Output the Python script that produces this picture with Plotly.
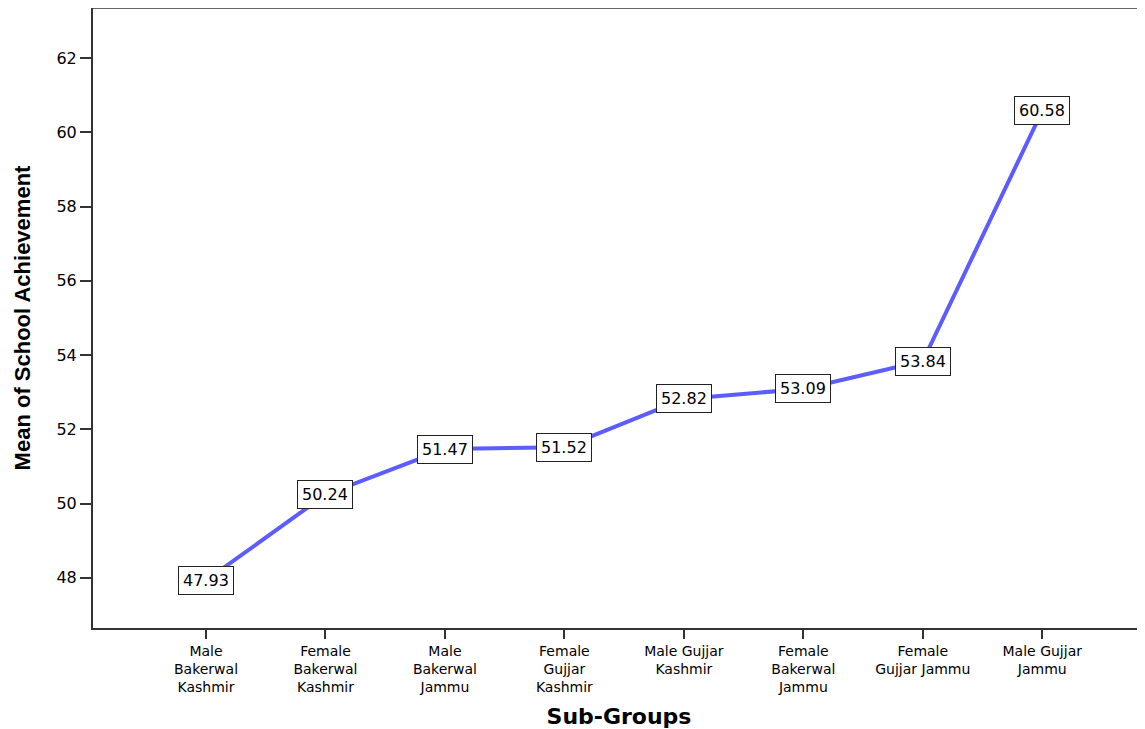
import plotly.graph_objects as go

categories = ["Male<br>Bakerwal<br>Kashmir", "Female<br>Bakerwal<br>Kashmir", "Male<br>Bakerwal<br>Jammu",
              "Female<br>Gujjar<br>Kashmir", "Male Gujjar<br>Kashmir", "Female<br>Bakerwal<br>Jammu",
              "Female<br>Gujjar Jammu", "Male Gujjar<br>Jammu"]
means = [47.93, 50.24, 51.47, 51.52, 52.82, 53.09, 53.84, 60.58]
y_ticks = [48, 50, 52, 54, 56, 58, 60, 62]

xs = list(range(len(categories)))
font = "DejaVu Sans, Liberation Sans, Arial, sans-serif"
font_arial = "Liberation Sans, Arial, sans-serif"

fig = go.Figure()
fig.add_trace(go.Scatter(x=xs, y=means, mode="lines",
                         line=dict(color="#5c5cff", width=4), hoverinfo="skip"))

for x, v in zip(xs, means):
    fig.add_annotation(x=x, y=v, text=f"{v:.2f}", showarrow=False,
                       font=dict(family=font, size=16, color="black"),
                       bgcolor="white", bordercolor="#222", borderwidth=1, borderpad=4)

fig.update_layout(
    width=1137, height=721,
    margin=dict(l=85, r=0, t=0, b=101, autoexpand=False),
    paper_bgcolor="white", plot_bgcolor="white",
    showlegend=False,
    font=dict(family=font, color="black"),
    xaxis=dict(range=[-0.946, 7.86], tickmode="array", tickvals=xs, ticktext=categories,
               automargin=False,
               ticks="outside", ticklen=9, tickwidth=2, tickcolor="#333",
               showline=True, linecolor="#333", linewidth=2, mirror=False,
               showgrid=False, zeroline=False,
               tickfont=dict(size=14, family=font),
               title=dict(text="<b>Sub-Groups</b>", font=dict(size=22, family=font), standoff=14)),
    yaxis=dict(range=[46.65, 63.35], tickmode="array", tickvals=y_ticks,
               automargin=False,
               ticks="outside", ticklen=11, tickwidth=2, tickcolor="#333",
               showline=True, linecolor="#333", linewidth=2,
               showgrid=False, zeroline=False,
               tickfont=dict(size=16, family=font),
               title=dict(text="<b>Mean of School Achievement</b>", font=dict(size=22, family=font_arial), standoff=20)),
)
fig.add_shape(type="line", xref="paper", yref="paper", x0=0, x1=1, y0=1, y1=1,
              line=dict(color="#666", width=2))

fig.write_html("out.html")
